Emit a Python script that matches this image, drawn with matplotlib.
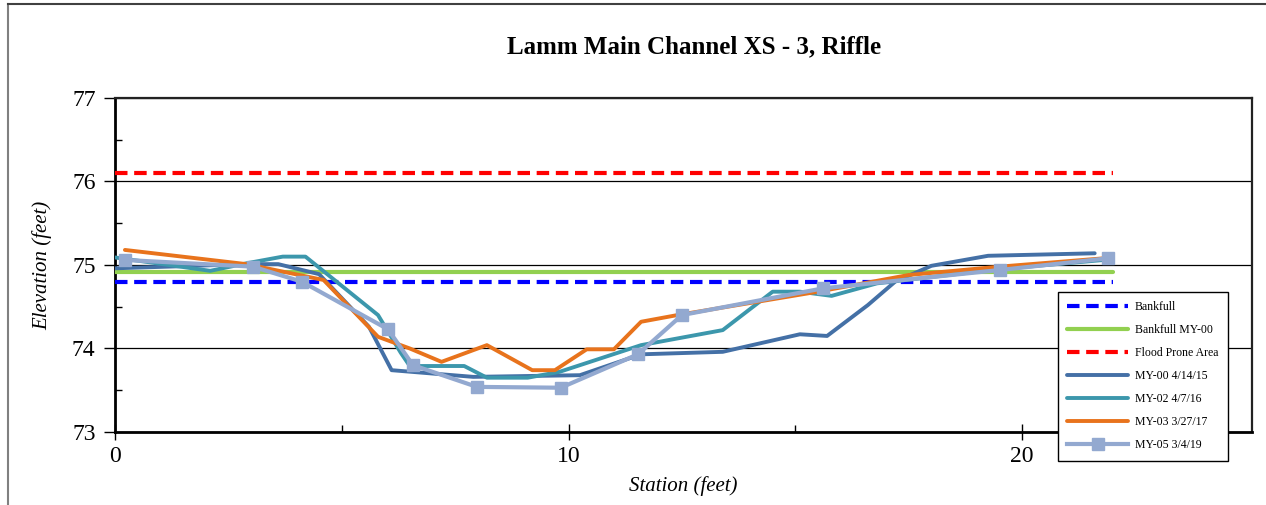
import numpy as np
import matplotlib
matplotlib.use('Agg')
import matplotlib.pyplot as plt
from matplotlib.lines import Line2D
from matplotlib.ticker import MultipleLocator, FixedLocator

plt.rcParams['font.family'] = ['Liberation Serif', 'DejaVu Serif']

# reference lines (station extent and elevation)
ref_x = [0, 22]
bankfull = 74.80
bankfull_my00 = 74.92
flood_prone = 76.10

# survey cross sections
my00_x = [0.0, 2.9, 3.6, 4.5, 5.6, 6.1, 7.9, 10.25, 11.6, 13.4, 15.1, 15.7, 16.6, 17.2, 18.0, 19.25, 21.6]
my00_y = [74.96, 75.01, 75.01, 74.89, 74.26, 73.74, 73.66, 73.68, 73.93, 73.96, 74.17, 74.15, 74.52, 74.80, 74.99, 75.11, 75.14]

my02_x = [0.0, 2.1, 2.9, 3.7, 4.2, 5.8, 6.3, 6.5, 7.7, 8.2, 9.1, 9.8, 11.6, 13.4, 14.5, 15.1, 15.8, 16.8, 19.5, 21.8]
my02_y = [75.09, 74.93, 75.02, 75.10, 75.10, 74.40, 73.95, 73.79, 73.79, 73.65, 73.65, 73.72, 74.04, 74.22, 74.68, 74.68, 74.63, 74.78, 74.95, 75.06]

my03_x = [0.22, 2.9, 4.6, 5.8, 6.5, 7.2, 8.2, 9.2, 9.7, 10.4, 11.0, 11.6, 12.4, 15.5, 17.5, 19.5, 21.8]
my03_y = [75.18, 75.01, 74.82, 74.14, 74.00, 73.84, 74.04, 73.74, 73.74, 73.99, 73.99, 74.32, 74.40, 74.68, 74.88, 74.98, 75.08]

my05_x = [0.22, 3.04, 4.12, 6.02, 6.57, 7.98, 9.83, 11.53, 12.5, 15.61, 19.51, 21.9]
my05_y = [75.06, 74.98, 74.80, 74.23, 73.80, 73.54, 73.53, 73.93, 74.40, 74.72, 74.94, 75.08]

fig = plt.figure(figsize=(12.66, 5.05), dpi=100)
ax = fig.add_axes([0.0908, 0.1446, 0.8982, 0.6614])

ax.grid(True, axis='y', which='major', color='black', linewidth=0.9)
ax.set_axisbelow(True)

ax.plot(ref_x, [bankfull] * 2, color='#0000FF', linewidth=3, linestyle=(0, (3, 1.6)),
        label='Bankfull', zorder=3)
ax.plot(ref_x, [bankfull_my00] * 2, color='#92D050', linewidth=3, solid_capstyle='round',
        label='Bankfull MY-00', zorder=3)
ax.plot(ref_x, [flood_prone] * 2, color='#FF0000', linewidth=3, linestyle=(0, (3, 1.6)),
        label='Flood Prone Area', zorder=3)
ax.plot(my00_x, my00_y, color='#4470A6', linewidth=2.8, solid_capstyle='round',
        label='MY-00 4/14/15', zorder=4)
ax.plot(my02_x, my02_y, color='#3C97AC', linewidth=2.8, solid_capstyle='round',
        label='MY-02 4/7/16', zorder=5)
ax.plot(my03_x, my03_y, color='#E8731C', linewidth=2.8, solid_capstyle='round',
        label='MY-03 3/27/17', zorder=6)
ax.plot(my05_x, my05_y, color='#93A9D0', linewidth=3, marker='s', markersize=9,
        label='MY-05 3/4/19', zorder=7)

ax.set_xlim(0, 25.07)
ax.set_ylim(73, 77)
ax.xaxis.set_major_locator(MultipleLocator(10))
ax.xaxis.set_minor_locator(FixedLocator([5, 15]))
ax.yaxis.set_major_locator(MultipleLocator(1))
ax.yaxis.set_minor_locator(MultipleLocator(0.5))

ax.tick_params(axis='y', which='major', direction='out', length=8, width=1, labelsize=17, pad=6)
ax.tick_params(axis='y', which='minor', direction='in', length=5, width=1)
ax.tick_params(axis='x', which='major', direction='inout', length=12, width=1, labelsize=17, pad=4)
ax.tick_params(axis='x', which='minor', direction='in', length=5, width=1)

for side in ['left', 'bottom']:
    ax.spines[side].set_linewidth(2)
    ax.spines[side].set_color('black')
for side in ['top', 'right']:
    ax.spines[side].set_linewidth(1.6)
    ax.spines[side].set_color('#222222')

ax.set_xlabel('Station (feet)', fontsize=15, fontstyle='italic', labelpad=7)
ax.set_ylabel('Elevation (feet)', fontsize=15, fontstyle='italic', labelpad=14)
fig.text(0.548, 0.907, 'Lamm Main Channel XS - 3, Riffle', fontsize=18,
         fontweight='bold', ha='center', va='center')

leg = ax.legend(loc='upper left', bbox_to_anchor=(0.8357, 0.4218), bbox_transform=fig.transFigure,
                fontsize=8.5, handlelength=5.1, labelspacing=0.93, borderpad=0.8,
                handletextpad=0.6, fancybox=False, framealpha=1, borderaxespad=0)
leg.get_frame().set_edgecolor('black')
leg.get_frame().set_linewidth(1.0)
leg.set_zorder(10)
for h in leg.get_lines():
    if h.get_marker() == 's':
        h.set_markersize(8)

# outer chart border
fig.add_artist(Line2D([0.006, 0.006], [0.0, 0.992], transform=fig.transFigure, color='#808080', linewidth=1.5))
fig.add_artist(Line2D([0.006, 1.0], [0.992, 0.992], transform=fig.transFigure, color='#404040', linewidth=1.5))

fig.savefig('out.png', dpi=100)
